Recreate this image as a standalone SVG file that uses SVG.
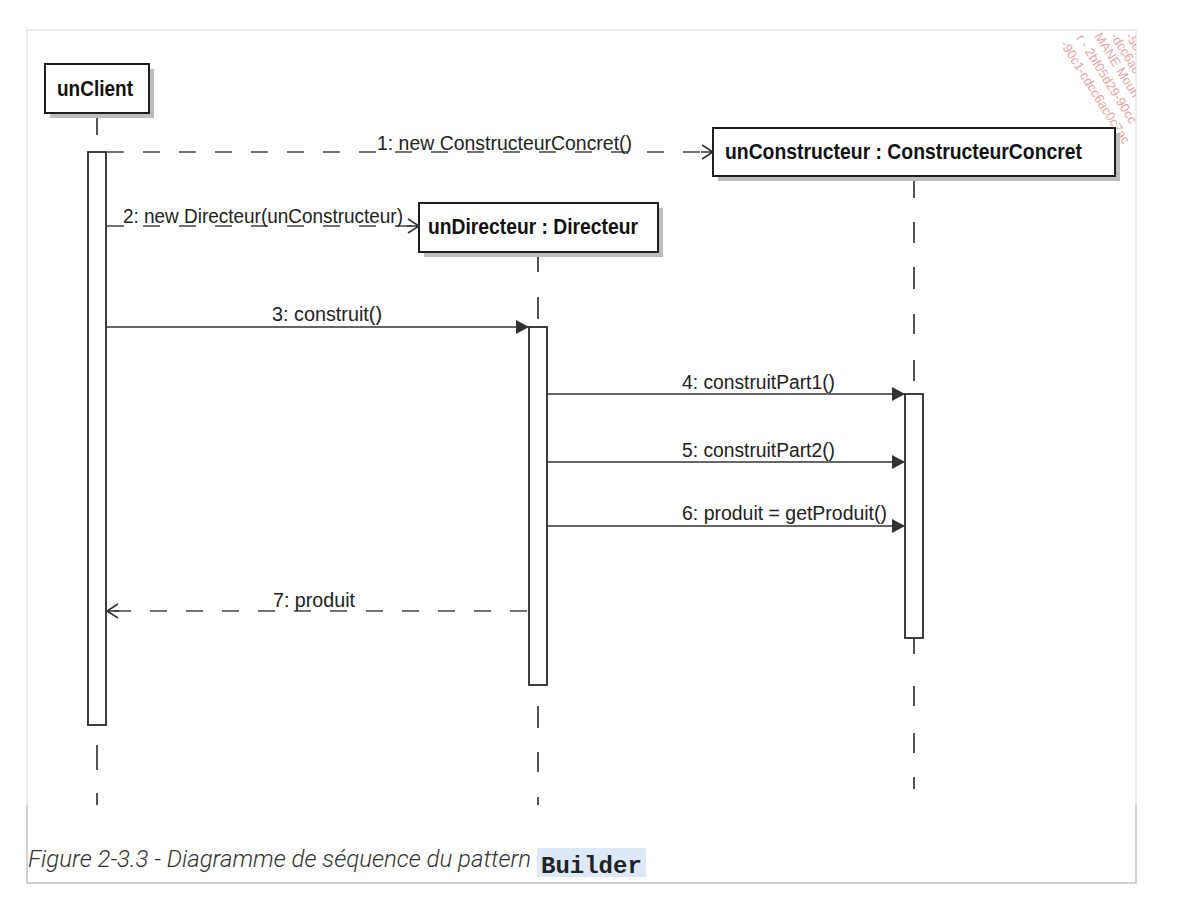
<svg xmlns="http://www.w3.org/2000/svg" width="1178" height="920" viewBox="0 0 1178 920">
  <style>
    .box { fill: #ffffff; stroke: #1e1e1e; stroke-width: 2; }
    .shadow { fill: #bdbdbd; }
    .bar { fill: #ffffff; stroke: #2a2a2a; stroke-width: 1.8; }
    .title { font-family: "Liberation Sans", Arial, sans-serif; font-weight: bold; font-size: 22px; fill: #111; }
    .label { font-family: "Liberation Sans", Arial, sans-serif; font-size: 20px; fill: #222; }
    .life { stroke: #555; stroke-width: 2; }
    .call { stroke: #333; stroke-width: 1.5; fill: none; }
    .reply { stroke: #444; stroke-width: 1.5; fill: none; stroke-dasharray: 17 19; }
    .wm { font-family: "Liberation Sans", Arial, sans-serif; font-size: 13px; fill: #e4a4a4; }
  </style>
  <defs>
    <marker id="filled" viewBox="0 0 14 16" refX="13" refY="8" markerWidth="14" markerHeight="16" orient="auto" markerUnits="userSpaceOnUse">
      <path d="M0,1 L13,8 L0,15 z" fill="#333"/>
    </marker>
    <marker id="open" viewBox="0 0 16 18" refX="14" refY="9" markerWidth="16" markerHeight="18" orient="auto" markerUnits="userSpaceOnUse">
      <path d="M2,9 H14 M3,2 L14,9 L3,16" fill="none" stroke="#333" stroke-width="1.6"/>
    </marker>
    <clipPath id="pane">
      <rect x="27" y="30" width="1109" height="775"/>
    </clipPath>
  </defs>

  <!-- page frame -->
  <rect x="0" y="0" width="1178" height="920" fill="#ffffff"/>
  <rect x="27" y="30" width="1109" height="853" fill="none" stroke="#e6e6e6" stroke-width="1.5"/>
  <path d="M27,805 V883 H1136 V805" fill="none" stroke="#c9c9c9" stroke-width="1.5"/>

  <!-- watermark -->
  <g clip-path="url(#pane)">
    <text class="wm" transform="translate(1060,44) rotate(58)">-90c1-cdcc6ac0c7ac</text>
    <text class="wm" transform="translate(1076,38) rotate(58)">r - 2bf05d29-90cc</text>
    <text class="wm" transform="translate(1094,36) rotate(58)">MANE Moun</text>
    <text class="wm" transform="translate(1110,36) rotate(58)">-dcc6ac</text>
    <text class="wm" transform="translate(1125,36) rotate(58)">-5o</text>
  </g>

  <!-- lifelines -->
  <g id="lifelines" clip-path="url(#pane)">
    <path class="life" d="M97,113 V135 M97,745 V770 M97,793 V806"/>
    <path class="life" d="M538,252 V272 M538,297 V319 M538,706 V728 M538,752 V772 M538,797 V806"/>
    <path class="life" d="M914,176 V198 M914,222 V243 M914,267 V289 M914,314 V334 M914,360 V381 M914,638 V654 M914,686 V706 M914,733 V753 M914,777 V789"/>
  </g>

  <!-- participants -->
  <g id="unClient">
    <rect class="shadow" x="50" y="69" width="104" height="49"/>
    <rect class="box" x="45" y="64" width="104" height="49"/>
    <text class="title" x="57" y="96" textLength="76" lengthAdjust="spacingAndGlyphs">unClient</text>
    <rect class="bar" x="88" y="152" width="18" height="573"/>
  </g>

  <g id="unConstructeur">
    <rect class="shadow" x="718" y="133" width="402" height="48"/>
    <rect class="box" x="713" y="128" width="402" height="48"/>
    <text class="title" x="725" y="159" textLength="357" lengthAdjust="spacingAndGlyphs">unConstructeur : ConstructeurConcret</text>
    <rect class="bar" x="905" y="394" width="18" height="244"/>
  </g>

  <g id="unDirecteur">
    <rect class="shadow" x="424" y="208" width="239" height="49"/>
    <rect class="box" x="419" y="203" width="239" height="49"/>
    <text class="title" x="428" y="234" textLength="210" lengthAdjust="spacingAndGlyphs">unDirecteur : Directeur</text>
    <rect class="bar" x="529" y="327" width="18" height="358"/>
  </g>

  <!-- messages -->
  <g id="connectors">
    <line class="reply" x1="107" y1="152" x2="713" y2="152" marker-end="url(#open)"/>
    <text class="label" x="377" y="150" textLength="255" lengthAdjust="spacingAndGlyphs">1: new ConstructeurConcret()</text>

    <line class="reply" x1="107" y1="226" x2="419" y2="226" marker-end="url(#open)"/>
    <text class="label" x="123" y="223" textLength="280" lengthAdjust="spacingAndGlyphs">2: new Directeur(unConstructeur)</text>

    <line class="call" x1="106" y1="327" x2="529" y2="327" marker-end="url(#filled)"/>
    <text class="label" x="272" y="321" textLength="110" lengthAdjust="spacingAndGlyphs">3: construit()</text>

    <line class="call" x1="547" y1="394" x2="905" y2="394" marker-end="url(#filled)"/>
    <text class="label" x="682" y="389" textLength="153" lengthAdjust="spacingAndGlyphs">4: construitPart1()</text>

    <line class="call" x1="547" y1="462" x2="905" y2="462" marker-end="url(#filled)"/>
    <text class="label" x="682" y="457" textLength="153" lengthAdjust="spacingAndGlyphs">5: construitPart2()</text>

    <line class="call" x1="547" y1="526" x2="905" y2="526" marker-end="url(#filled)"/>
    <text class="label" x="682" y="520" textLength="205" lengthAdjust="spacingAndGlyphs">6: produit = getProduit()</text>

    <line class="reply" x1="527" y1="611" x2="107" y2="611" marker-end="url(#open)"/>
    <text class="label" x="273" y="607" textLength="82" lengthAdjust="spacingAndGlyphs">7: produit</text>
  </g>

  <!-- caption -->
  <g id="caption">
    <text x="28" y="867" font-family="Roboto, 'Noto Sans', sans-serif" font-style="italic" font-weight="300" font-size="24" fill="#333">Figure 2-3.3 - Diagramme de séquence du pattern </text>
    <rect x="537" y="848" width="109" height="29" fill="#dde9f9"/>
    <text x="541" y="873" font-family="'Liberation Mono', 'Courier New', monospace" font-weight="bold" font-size="24" fill="#222">Builder</text>
  </g>
</svg>
